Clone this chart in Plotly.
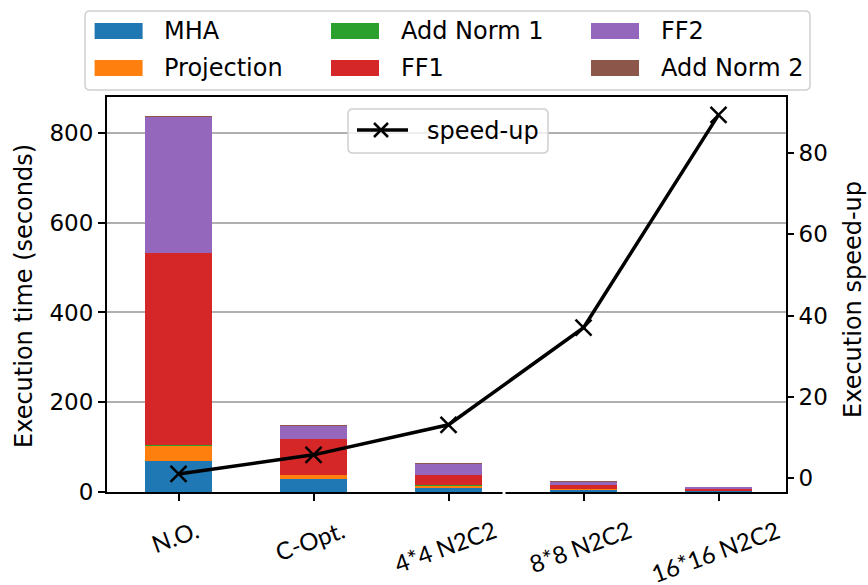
import plotly.graph_objects as go

categories = ["N.O.", "C-Opt.", "4*4 N2C2", "8*8 N2C2", "16*16 N2C2"]
mha = [70, 29, 10, 6, 3.5]
projection = [34, 9.5, 4.5, 1.5, 0.8]
add_norm1 = [0.2, 0.1, 0.1, 0.05, 0.02]
ff1 = [428, 80, 23.5, 8.5, 4]
ff2 = [305, 29, 25.5, 8, 3.5]
add_norm2 = [0.2, 0.1, 0.1, 0.05, 0.02]
speedup = [1.0, 5.7, 13.1, 37.0, 89.4]

series_names = ["MHA", "Projection", "Add Norm 1", "FF1", "FF2", "Add Norm 2"]
series_vals = [mha, projection, add_norm1, ff1, ff2, add_norm2]
colors = ["#1f77b4", "#ff7f0e", "#2ca02c", "#d62728", "#9467bd", "#8c564b"]

W, H = 868, 585
L, R, T, B = 107, 786, 97, 492
FONT = "DejaVu Sans"
FS = 24


def px(x):
    return (x - L) / (R - L)


def py(y):
    return (B - y) / (B - T)


def rounded_box(x0, y0, x1, y1, r=5):
    pts = []
    X = lambda v: f"{px(v):.5f}"
    Y = lambda v: f"{py(v):.5f}"
    pts.append(f"M{X(x0 + r)},{Y(y0)}")
    pts.append(f"L{X(x1 - r)},{Y(y0)}")
    pts.append(f"Q{X(x1)},{Y(y0)} {X(x1)},{Y(y0 + r)}")
    pts.append(f"L{X(x1)},{Y(y1 - r)}")
    pts.append(f"Q{X(x1)},{Y(y1)} {X(x1 - r)},{Y(y1)}")
    pts.append(f"L{X(x0 + r)},{Y(y1)}")
    pts.append(f"Q{X(x0)},{Y(y1)} {X(x0)},{Y(y1 - r)}")
    pts.append(f"L{X(x0)},{Y(y0 + r)}")
    pts.append(f"Q{X(x0)},{Y(y0)} {X(x0 + r)},{Y(y0)}Z")
    return " ".join(pts)


fig = go.Figure()
for name, vals, c in zip(series_names, series_vals, colors):
    fig.add_trace(go.Bar(x=categories, y=vals, name=name, marker=dict(color=c, line=dict(width=0)),
                         width=0.5, showlegend=False))

fig.add_trace(go.Scatter(x=categories, y=speedup, yaxis="y2", mode="lines+markers", name="speed-up",
                         line=dict(color="black", width=3.5),
                         marker=dict(symbol="x-thin", size=16, line=dict(color="black", width=2.5)),
                         showlegend=False))

shapes = []
annotations = []

# bar legend (top)
shapes.append(dict(type="path", xref="paper", yref="paper", path=rounded_box(85, 11, 810, 90),
                   line=dict(color="#d0d0d0", width=1.5), fillcolor="white", layer="above"))
col_sw = [94.6, 331, 591]
col_tx = [162, 399, 659]
rows = [31, 68]
order = [[0, 1], [2, 3], [4, 5]]
for ci in range(3):
    for ri in range(2):
        idx = order[ci][ri]
        yc = rows[ri]
        shapes.append(dict(type="rect", xref="paper", yref="paper", x0=px(col_sw[ci]), x1=px(col_sw[ci] + 48),
                           y0=py(yc + 8), y1=py(yc - 8), line=dict(width=0), fillcolor=colors[idx], layer="above"))
        annotations.append(dict(text=series_names[idx], xref="paper", yref="paper", x=px(col_tx[ci]), y=py(yc),
                                xanchor="left", yanchor="middle", showarrow=False,
                                font=dict(family=FONT, size=FS, color="black")))

# speed-up legend (inside)
shapes.append(dict(type="path", xref="paper", yref="paper", path=rounded_box(348, 109, 548, 153),
                   line=dict(color="#d0d0d0", width=1.5), fillcolor="rgba(255,255,255,0.8)", layer="above"))
shapes.append(dict(type="line", xref="paper", yref="paper", x0=px(357), x1=px(408), y0=py(130), y1=py(130),
                   line=dict(color="black", width=3.5), layer="above"))
for d in (1, -1):
    shapes.append(dict(type="line", xref="paper", yref="paper", x0=px(381 - 7), x1=px(381 + 7),
                       y0=py(130 - 7 * d), y1=py(130 + 7 * d), line=dict(color="black", width=2.5), layer="above"))
annotations.append(dict(text="speed-up", xref="paper", yref="paper", x=px(425), y=py(131), xanchor="left",
                        yanchor="middle", showarrow=False, font=dict(family=FONT, size=FS, color="black")))

# x tick labels (rotated, centred like matplotlib)
for c in categories:
    annotations.append(dict(text=c, x=c, xref="x", yref="paper", y=0, yshift=-20, xshift=-4, xanchor="center",
                            yanchor="top", textangle=-20, showarrow=False,
                            font=dict(family="Lato", size=24, color="black")))

# axis titles
annotations.append(dict(text="Execution time (seconds)", xref="paper", yref="paper", x=px(24), y=py(296),
                        textangle=-90, xanchor="center", yanchor="middle", showarrow=False,
                        font=dict(family=FONT, size=FS, color="black")))
annotations.append(dict(text="Execution speed-up", xref="paper", yref="paper", x=px(853), y=py(300),
                        textangle=-90, xanchor="center", yanchor="middle", showarrow=False,
                        font=dict(family=FONT, size=FS, color="black")))

# small break in the bottom spine
shapes.append(dict(type="rect", xref="paper", yref="paper", x0=px(502.5), x1=px(505.5), y0=py(495), y1=py(489),
                   line=dict(width=0), fillcolor="white", layer="above"))

fig.update_layout(
    width=W, height=H,
    margin=dict(l=L, r=W - R, t=T, b=H - B),
    paper_bgcolor="white", plot_bgcolor="white",
    barmode="stack", bargap=0.5,
    showlegend=False,
    font=dict(family=FONT, size=23, color="black"),
    xaxis=dict(range=[-0.53, 4.5], showticklabels=False, ticks="outside", ticklen=7, tickwidth=1.5,
               tickcolor="black", showline=True, linecolor="black", linewidth=2, mirror=True,
               showgrid=False, zeroline=False),
    yaxis=dict(range=[0, 880], tickvals=[0, 200, 400, 600, 800], ticks="outside", ticklen=7, tickwidth=1.5,
               tickcolor="black", showline=True, linecolor="black", linewidth=2, mirror=True,
               showgrid=True, gridcolor="#b0b0b0", gridwidth=1.5, zeroline=False,
               tickfont=dict(family=FONT, size=23)),
    yaxis2=dict(range=[-3.45, 93.8], overlaying="y", side="right", tickvals=[0, 20, 40, 60, 80],
                ticks="outside", ticklen=7, tickwidth=1.5, tickcolor="black", showline=False,
                showgrid=False, zeroline=False, tickfont=dict(family=FONT, size=23)),
    shapes=shapes,
    annotations=annotations,
)

fig.write_html("out.html", config={"displayModeBar": False},
               post_script="document.body.style.margin='0';document.body.style.overflow='hidden';")
